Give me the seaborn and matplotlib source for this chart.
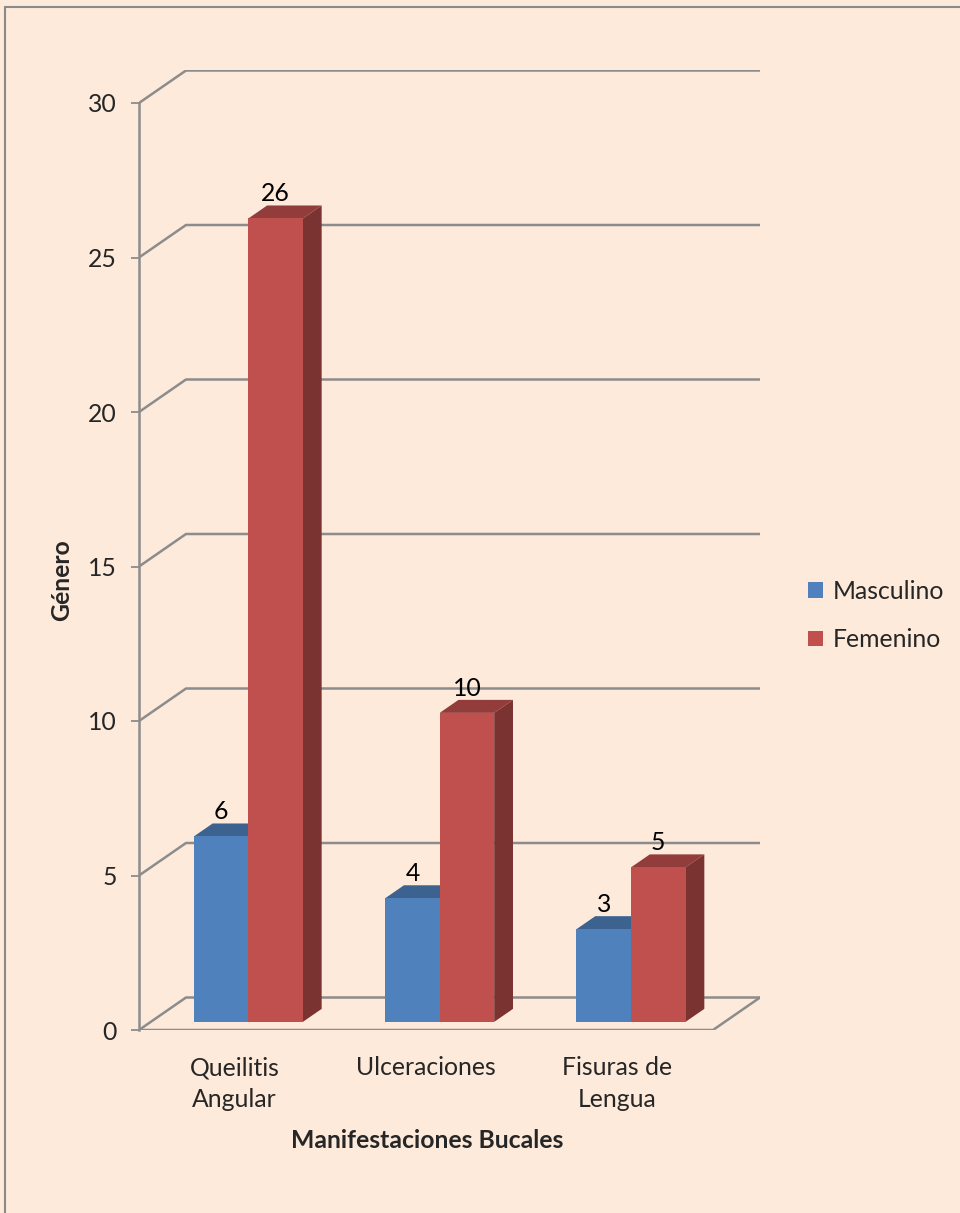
import matplotlib
matplotlib.use("Agg")
import matplotlib.pyplot as plt
import seaborn as sns
import pandas as pd
from matplotlib.patches import Polygon
from matplotlib.lines import Line2D
from matplotlib.colors import to_rgb

# Data
categories = ["Queilitis\nAngular", "Ulceraciones", "Fisuras de\nLengua"]
series = ["Masculino", "Femenino"]
masculino = [6, 4, 3]
femenino = [26, 10, 5]
yticks = [0, 5, 10, 15, 20, 25, 30]

colors = {"Masculino": "#4F81BD", "Femenino": "#C0504D"}
bg = "#FDEADA"
grid_col = "#8C8C8C"

sns.set_style("white")
plt.rcParams["font.family"] = ["Lato", "DejaVu Sans"]
FS = 17.8

W, H = 960, 1213
fig = plt.figure(figsize=(W / 100, H / 100), dpi=100)
fig.patch.set_facecolor(bg)

# axes box in pixels: front axis at x=139, floor at y=1030, back wall to x=760, top 70
L, R, T, B = 139, 760, 70, 1030
ax = fig.add_axes([L / W, 1 - B / H, (R - L) / W, (B - T) / H])
ax.set_facecolor("none")

px_per_cat = (713 - 139) / 3.0
px_per_val = (1030 - 103) / 30.0
DX = 47 / px_per_cat        # depth offset (x) for full depth
DY = 32.5 / px_per_val      # depth offset (y) for full depth
xmax = 2.5 + DX

df = pd.DataFrame({
    "cat": categories * 2,
    "series": [s for s in series for _ in categories],
    "val": masculino + femenino,
})

sns.barplot(data=df, x="cat", y="val", hue="series", hue_order=series,
            order=categories, palette=colors, width=0.57, dodge=True,
            saturation=1, legend=False, ax=ax, linewidth=0, err_kws={"linewidth": 0})

ax.set_xlim(-0.5, -0.5 + (R - L) / px_per_cat)
ax.set_ylim(0, (B - T) / px_per_val)

# back wall grid and floor
for v in yticks:
    ax.plot([-0.5, -0.5 + DX, xmax], [v, v + DY, v + DY],
            color=grid_col, lw=1.8, zorder=1, solid_capstyle="butt")
ax.plot([-0.5, 2.5, xmax], [0, 0, DY], color=grid_col, lw=1.8, zorder=1)

# 3D bar faces
d0, d1 = 0.25, 0.65
blue_rgb = to_rgb(colors["Masculino"])
for p in list(ax.patches):
    x, w, h = p.get_x(), p.get_width(), p.get_height()
    rgb = to_rgb(p.get_facecolor()[:3])
    is_blue = all(abs(a - b) < 0.01 for a, b in zip(rgb, blue_rgb))
    z = 3 if is_blue else 5
    x0 = x + d0 * DX + 0.01
    y0 = d0 * DY
    p.set_x(x0)
    p.set_y(y0)
    p.set_zorder(z + 1)
    ddx = (d1 - d0) * DX
    ddy = (d1 - d0) * DY
    top = [(x0, y0 + h), (x0 + w, y0 + h), (x0 + w + ddx, y0 + h + ddy), (x0 + ddx, y0 + h + ddy)]
    side = [(x0 + w, y0), (x0 + w + ddx, y0 + ddy), (x0 + w + ddx, y0 + h + ddy), (x0 + w, y0 + h)]
    ax.add_patch(Polygon(top, closed=True, facecolor=tuple(c * 0.76 for c in rgb), lw=0, zorder=z))
    ax.add_patch(Polygon(side, closed=True, facecolor=tuple(c * 0.64 for c in rgb), lw=0, zorder=z))
    ax.text(x0 + w / 2, y0 + h + 0.8, f"{h:g}", ha="center", va="center",
            fontsize=FS, color="black", zorder=10)

# axes styling
for s in ["top", "right", "bottom"]:
    ax.spines[s].set_visible(False)
ax.spines["left"].set_visible(True)
ax.spines["left"].set_color(grid_col)
ax.spines["left"].set_linewidth(1.8)
ax.spines["left"].set_bounds(0, 30)
ax.set_yticks(yticks)
ax.set_yticklabels([str(t) for t in yticks], fontsize=FS)
ax.tick_params(axis="y", direction="out", length=5.8, width=1.3, color=grid_col, pad=10, left=True)
ax.set_xticks(range(len(categories)))
ax.set_xticklabels(categories, fontsize=FS, linespacing=1.45)
ax.tick_params(axis="x", length=0, pad=19)
ax.set_xlabel("")
ax.set_ylabel("")
ax.grid(False)

fig.text(62 / W, 1 - 580 / H, "Género", rotation=90, ha="center", va="center",
         fontsize=FS, fontweight="bold")
fig.text(427 / W, 1 - 1140 / H, "Manifestaciones Bucales", ha="center", va="center",
         fontsize=FS, fontweight="bold")

# legend
handles = [plt.Rectangle((0, 0), 1, 1, facecolor=colors[s], lw=0) for s in series]
fig.legend(handles, series, loc="upper left", bbox_to_anchor=(798 / W, 1 - 570 / H),
           frameon=False, fontsize=FS, handlelength=0.6, handleheight=0.6,
           handletextpad=0.42, labelspacing=1.02, borderaxespad=0)

# outer frame (top and left edges)
fig.add_artist(Line2D([5 / W, 1], [1 - 7 / H, 1 - 7 / H], color="#8A8A8A", lw=1.5))
fig.add_artist(Line2D([5 / W, 5 / W], [0, 1 - 7 / H], color="#8A8A8A", lw=1.5))

fig.savefig("out.png", dpi=100, facecolor=bg)
